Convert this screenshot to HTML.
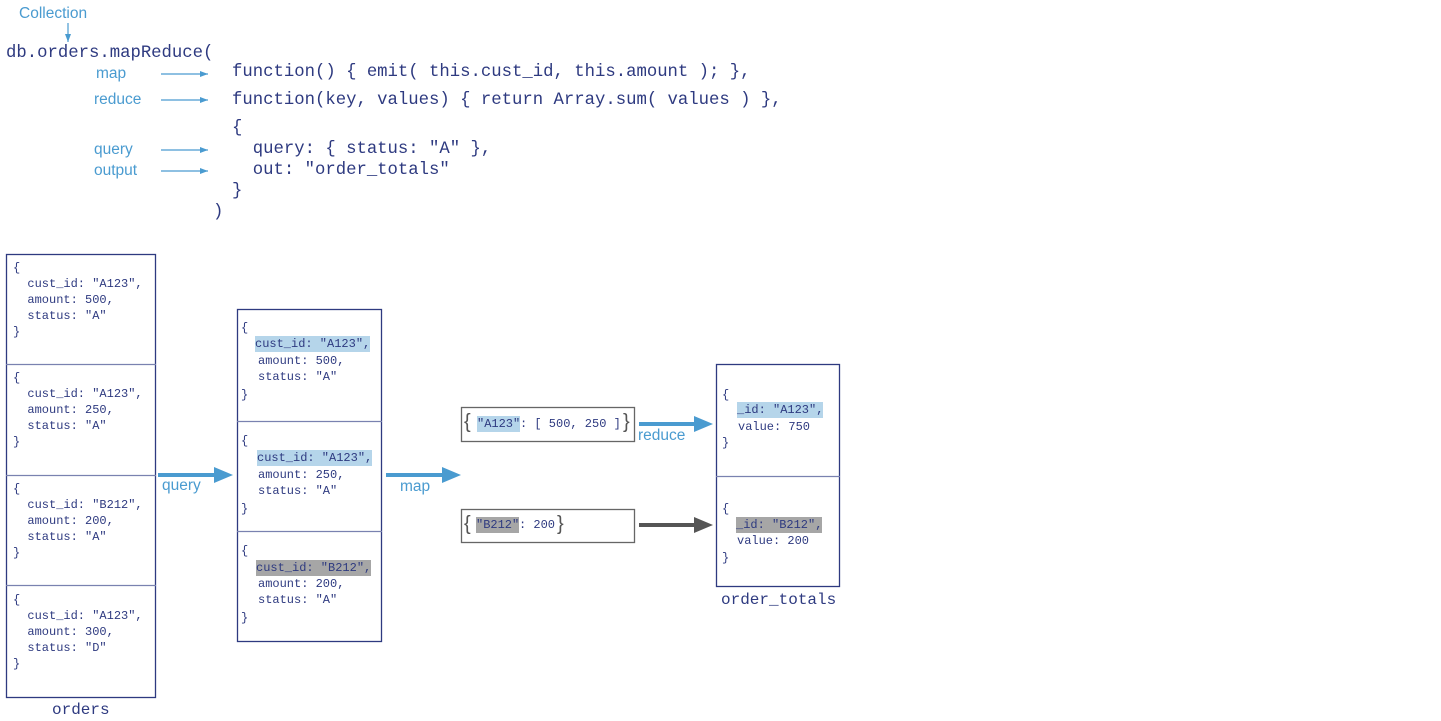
<!DOCTYPE html>
<html><head><meta charset="utf-8"><style>
body{margin:0;width:1441px;height:721px;background:#fff;position:relative;overflow:hidden;font-family:"Liberation Mono",monospace;color:#2e3a80}
.t{position:absolute;white-space:pre;line-height:20px}
.c{font-size:17.3px}
.b{color:#4a9bd0;font-family:"Liberation Sans",sans-serif;font-size:15.5px}
.s{position:absolute;white-space:pre;font-size:12px;line-height:16px}
.hb{background:#b5d5ea}
.hg{background:#a6a6a6}
</style></head><body>
<svg width="1441" height="721" style="position:absolute;left:0;top:0">
<defs>
<marker id="ab" markerWidth="8" markerHeight="6" refX="8" refY="3" orient="auto" markerUnits="userSpaceOnUse"><path d="M0,0L8,3L0,6z" fill="#4a9bd0"/></marker>
</defs>
<g stroke="#4a9bd0" stroke-width="1.2" fill="none" marker-end="url(#ab)">
<line x1="68" y1="23" x2="68" y2="42"/>
<line x1="161" y1="74" x2="208" y2="74"/>
<line x1="161" y1="100" x2="208" y2="100"/>
<line x1="161" y1="150" x2="208" y2="150"/>
<line x1="161" y1="171" x2="208" y2="171"/>
</g>
<g fill="none" stroke="#2e3a80" stroke-width="1.3">
<rect x="6.5" y="254.5" width="149" height="443"/>
<line x1="6" y1="364.5" x2="156" y2="364.5" stroke="#7a82b0"/>
<line x1="6" y1="475.5" x2="156" y2="475.5" stroke="#7a82b0"/>
<line x1="6" y1="585.5" x2="156" y2="585.5" stroke="#7a82b0"/>
<rect x="237.5" y="309.5" width="144" height="332"/>
<line x1="237" y1="421.5" x2="382" y2="421.5" stroke="#7a82b0"/>
<line x1="237" y1="531.5" x2="382" y2="531.5" stroke="#7a82b0"/>
<rect x="716.5" y="364.5" width="123" height="222"/>
<line x1="716" y1="476.5" x2="840" y2="476.5" stroke="#7a82b0"/>
</g>
<rect x="461.5" y="407.5" width="173" height="34" fill="none" stroke="#666" stroke-width="1.3"/>
<rect x="461.5" y="509.5" width="173" height="33" fill="none" stroke="#666" stroke-width="1.3"/>
<g stroke="#4a9bd0" stroke-width="4">
<line x1="158" y1="475" x2="216" y2="475"/>
<line x1="386" y1="475" x2="444" y2="475"/>
<line x1="639" y1="424" x2="696" y2="424"/>
</g>
<g fill="#4a9bd0">
<path d="M214,467L233,475L214,483z"/>
<path d="M442,467L461,475L442,483z"/>
<path d="M694,416L713,424L694,432z"/>
</g>
<line x1="639" y1="525" x2="696" y2="525" stroke="#555" stroke-width="4"/>
<path d="M694,517L713,525L694,533z" fill="#555"/>
</svg>

<div class="t b" style="left:19px;top:4px">Collection</div>
<div class="t c" style="left:6px;top:44px">db.orders.mapReduce(</div>
<div class="t b" style="left:96px;top:64px">map</div>
<div class="t b" style="left:94px;top:90px">reduce</div>
<div class="t b" style="left:94px;top:140px">query</div>
<div class="t b" style="left:94px;top:161px">output</div>
<div class="t c" style="left:232px;top:63px">function() { emit( this.cust_id, this.amount ); },</div>
<div class="t c" style="left:232px;top:91px">function(key, values) { return Array.sum( values ) },</div>
<div class="t c" style="left:232px;top:119px">{</div>
<div class="t c" style="left:232px;top:140px">  query: { status: "A" },</div>
<div class="t c" style="left:232px;top:161px">  out: "order_totals"</div>
<div class="t c" style="left:232px;top:182px">}</div>
<div class="t c" style="left:213px;top:203px">)</div>

<!-- orders -->
<div class="s" style="left:13px;top:260px">{<br>  cust_id: "A123",<br>  amount: 500,<br>  status: "A"<br>}</div>
<div class="s" style="left:13px;top:370px">{<br>  cust_id: "A123",<br>  amount: 250,<br>  status: "A"<br>}</div>
<div class="s" style="left:13px;top:481px">{<br>  cust_id: "B212",<br>  amount: 200,<br>  status: "A"<br>}</div>
<div class="s" style="left:13px;top:592px">{<br>  cust_id: "A123",<br>  amount: 300,<br>  status: "D"<br>}</div>
<div class="t c" style="left:52px;top:700px;font-size:16px">orders</div>

<!-- middle -->
<div class="s" style="left:241px;top:320px">{</div>
<div class="s hb" style="left:255px;top:336px">cust_id: "A123",</div>
<div class="s" style="left:258px;top:353px">amount: 500,<br>status: "A"</div>
<div class="s" style="left:241px;top:387px">}</div>
<div class="s" style="left:241px;top:433px">{</div>
<div class="s hb" style="left:257px;top:450px">cust_id: "A123",</div>
<div class="s" style="left:258px;top:467px">amount: 250,<br>status: "A"</div>
<div class="s" style="left:241px;top:501px">}</div>
<div class="s" style="left:241px;top:543px">{</div>
<div class="s hg" style="left:256px;top:560px">cust_id: "B212",</div>
<div class="s" style="left:258px;top:576px">amount: 200,<br>status: "A"</div>
<div class="s" style="left:241px;top:610px">}</div>

<div class="t b" style="left:162px;top:476px">query</div>
<div class="t b" style="left:400px;top:477px">map</div>
<div class="t b" style="left:638px;top:426px">reduce</div>

<!-- keys -->
<div class="t" style="left:464px;top:412px;font-size:20px;font-family:'Liberation Sans',sans-serif;color:#555">{</div>
<div class="s hb" style="left:477px;top:416px">"A123"</div>
<div class="s" style="left:520px;top:416px">: [ 500, 250 ]</div>
<div class="t" style="left:623px;top:412px;font-size:20px;font-family:'Liberation Sans',sans-serif;color:#555">}</div>
<div class="t" style="left:464px;top:514px;font-size:20px;font-family:'Liberation Sans',sans-serif;color:#555">{</div>
<div class="s hg" style="left:476px;top:517px">"B212"</div>
<div class="s" style="left:519px;top:517px">: 200</div>
<div class="t" style="left:557px;top:514px;font-size:20px;font-family:'Liberation Sans',sans-serif;color:#555">}</div>

<!-- results -->
<div class="s" style="left:722px;top:387px">{</div>
<div class="s hb" style="left:737px;top:402px">_id: "A123",</div>
<div class="s" style="left:738px;top:419px">value: 750</div>
<div class="s" style="left:722px;top:435px">}</div>
<div class="s" style="left:722px;top:501px">{</div>
<div class="s hg" style="left:736px;top:517px">_id: "B212",</div>
<div class="s" style="left:737px;top:533px">value: 200</div>
<div class="s" style="left:722px;top:550px">}</div>
<div class="t c" style="left:721px;top:590px;font-size:16px">order_totals</div>
</body></html>
